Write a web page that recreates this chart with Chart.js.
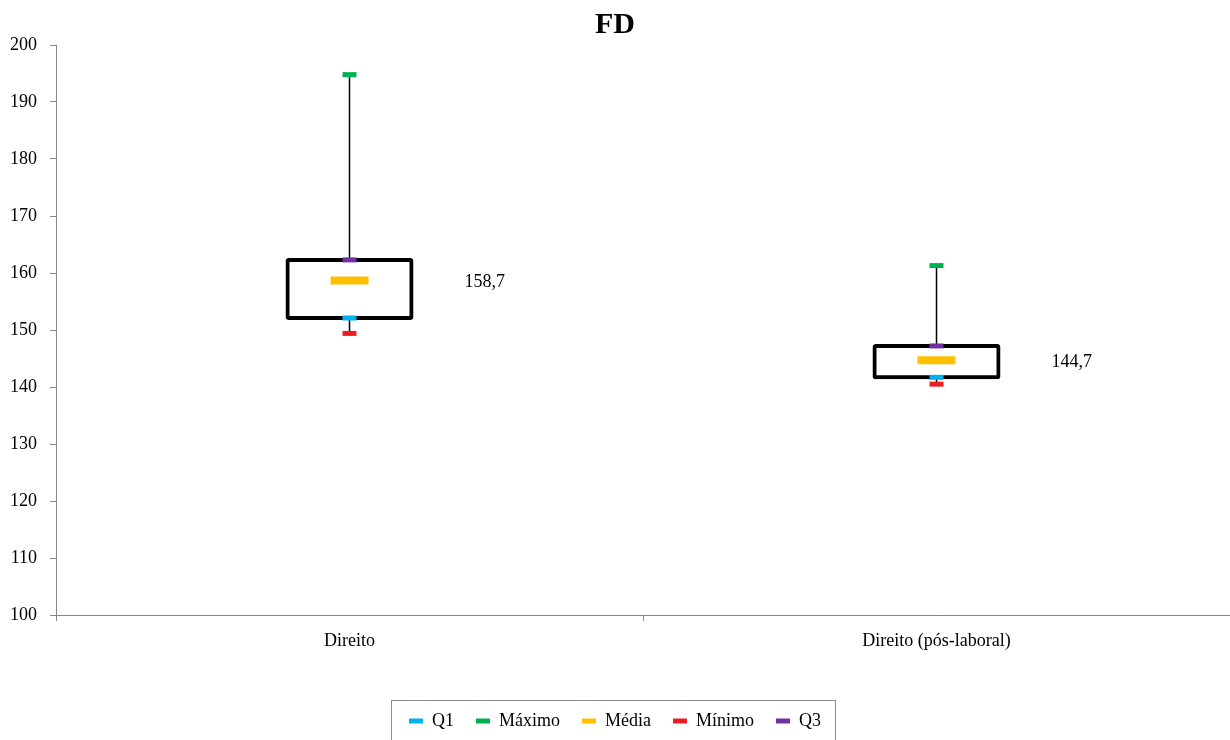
<!DOCTYPE html>
<html>
<head>
<meta charset="utf-8">
<script src="https://cdn.jsdelivr.net/npm/chart.js@4/dist/chart.umd.min.js"></script>
<style>
  html, body { margin: 0; padding: 0; background: #fff; overflow: hidden; }
  #wrap { width: 1230px; height: 740px; }
</style>
</head>
<body>
<div id="wrap"><canvas id="boxChart"></canvas></div>
<script>
const categories = ['Direito', 'Direito (pós-laboral)'];
const q1Values = [152.1, 141.7];
const maxValues = [194.8, 161.3];
const meanValues = [158.7, 144.7];
const minValues = [149.4, 140.5];
const q3Values = [162.3, 147.2];
const yTicks = [100, 200, 10]; // min, max, step

const serif = "'Liberation Serif', 'Times New Roman', serif";

function markerDataset(label, data, color, radius, width) {
    return {
        type: 'line',
        label: label,
        data: data,
        showLine: false,
        pointStyle: 'line',
        pointRadius: radius,
        pointHoverRadius: radius,
        pointBorderWidth: width,
        pointHoverBorderWidth: width,
        pointBorderColor: color,
        pointBackgroundColor: color,
        borderColor: color,
        clip: false,
        order: 0
    };
}

// border round the legend, like the excel one
const legendBorder = {
    id: 'legendBorder',
    afterDraw(chart) {
        const boxes = chart.legend.legendHitBoxes;
        if (!boxes || !boxes.length) return;
        const left = Math.min(...boxes.map(b => b.left)) - 18;
        const right = Math.max(...boxes.map(b => b.left + b.width)) + 14;
        const top = boxes[0].top - 12;
        const ctx = chart.ctx;
        ctx.save();
        ctx.strokeStyle = '#8c8c8c';
        ctx.lineWidth = 1;
        ctx.strokeRect(Math.round(left) + 0.5, Math.round(top) + 0.5, Math.round(right - left), 80);
        ctx.restore();
    }
};

// value label next to the mean
const meanLabels = {
    id: 'meanLabels',
    afterDatasetsDraw(chart) {
        const meta = chart.getDatasetMeta(2);
        const ctx = chart.ctx;
        ctx.save();
        ctx.font = '18px ' + serif;
        ctx.fillStyle = '#000';
        ctx.textAlign = 'left';
        ctx.textBaseline = 'middle';
        meta.data.forEach((pt, i) => {
            ctx.fillText(meanValues[i].toFixed(1).replace('.', ','), pt.x + 115, pt.y + 2);
        });
        ctx.restore();
    }
};

const ctx = document.getElementById('boxChart').getContext('2d');
new Chart(ctx, {
    type: 'bar',
    data: {
        labels: categories,
        datasets: [
            markerDataset('Q1', q1Values, '#00B0F0', 7, 5),
            markerDataset('Máximo', maxValues, '#00B050', 7, 5),
            markerDataset('Média', meanValues, '#FFC000', 19, 8),
            markerDataset('Mínimo', minValues, '#EE1C25', 7, 5),
            markerDataset('Q3', q3Values, '#7030A0', 7, 5),
            {
                label: 'box',
                data: q1Values.map((v, i) => [v, q3Values[i]]),
                backgroundColor: '#ffffff',
                borderColor: '#000000',
                borderWidth: 4,
                borderRadius: 3,
                borderSkipped: false,
                inflateAmount: 2,
                barThickness: 124,
                grouped: false,
                order: 1
            },
            {
                label: 'whisker',
                data: minValues.map((v, i) => [v, maxValues[i]]),
                backgroundColor: '#000000',
                borderWidth: 0,
                inflateAmount: 0,
                barThickness: 1.5,
                grouped: false,
                order: 2
            }
        ]
    },
    options: {
        responsive: true,
        maintainAspectRatio: false,
        animation: false,
        layout: { padding: 0, autoPadding: false },
        plugins: {
            title: {
                display: true,
                text: 'FD',
                color: '#000',
                font: { family: serif, size: 30, weight: 'bold' },
                padding: { top: 7, bottom: 2 }
            },
            legend: {
                position: 'bottom',
                labels: {
                    usePointStyle: true,
                    pointStyleWidth: 14,
                    padding: 22,
                    color: '#000',
                    font: { family: serif, size: 18 },
                    generateLabels: chart => Chart.defaults.plugins.legend.labels.generateLabels(chart)
                        .filter(item => item.datasetIndex < 5)
                        .map(item => Object.assign(item, { lineWidth: 5 }))
                }
            },
            tooltip: { enabled: false }
        },
        scales: {
            x: {
                offset: true,
                grid: { display: true, drawOnChartArea: false, offset: true, tickLength: 6, color: '#868686' },
                border: { color: '#868686', width: 1 },
                ticks: { color: '#000', font: { family: serif, size: 18 }, padding: 9 },
                afterFit: scale => { scale.height = 75; }
            },
            y: {
                min: yTicks[0],
                max: yTicks[1],
                grid: { display: true, drawOnChartArea: false, tickLength: 6, color: '#868686' },
                border: { color: '#868686', width: 1 },
                ticks: { stepSize: yTicks[2], color: '#000', font: { family: serif, size: 18 }, padding: 13 },
                afterFit: scale => { scale.width = 56; }
            }
        }
    },
    plugins: [legendBorder, meanLabels]
});
</script>
</body>
</html>
